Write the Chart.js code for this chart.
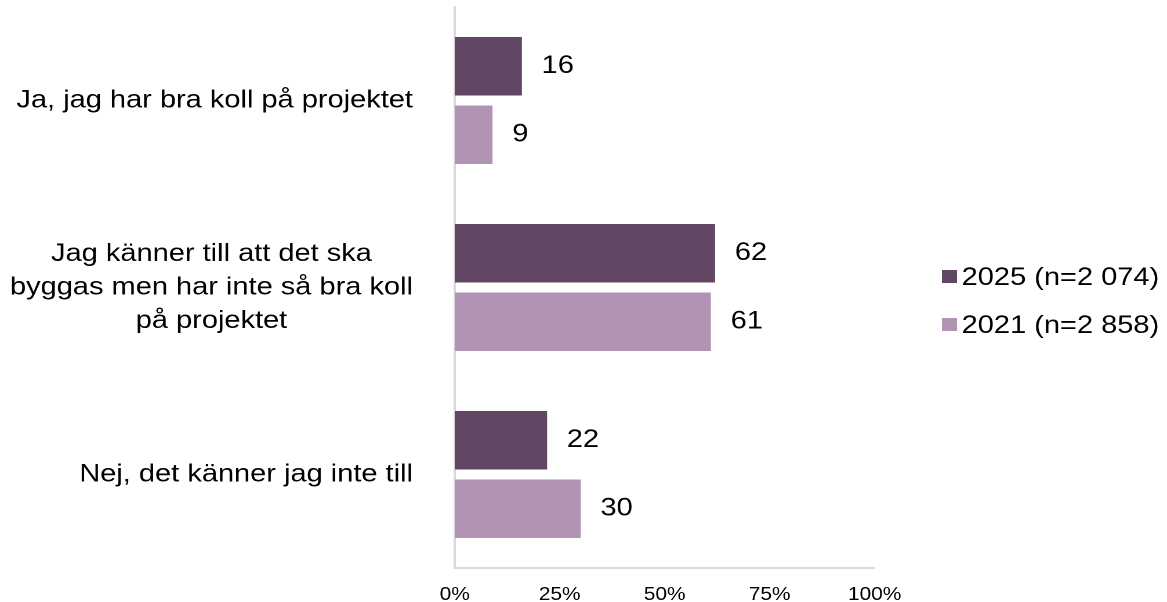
<!DOCTYPE html>
<html>
<head>
<meta charset="utf-8">
<script src="https://cdn.jsdelivr.net/npm/chart.js@4"></script>
<style>
  html, body { margin: 0; padding: 0; background: #fff; overflow: hidden; }
  /* the reference is a little stretched horizontally */
  #wrap { width: 1006px; height: 602px; transform: scaleX(1.16); transform-origin: 0 0; }
</style>
</head>
<body>
<div id="wrap"><canvas id="chart"></canvas></div>
<script>
// Chart data
const categories = [
    ['Ja, jag har bra koll på projektet'],
    ['Jag känner till att det ska', 'byggas men har inte så bra koll', 'på projektet'],
    ['Nej, det känner jag inte till']
];
const seriesNames = ['2025 (n=2 074)', '2021 (n=2 858)'];
const values2025 = [16, 62, 22];
const values2021 = [9, 61, 30];
const xTicks = [0, 25, 50, 75, 100];

const colors = ['#614764', '#b193b4'];
const FONT = '"Liberation Sans", Arial, sans-serif';

// Draws category labels, value labels and the legend
const textPlugin = {
    id: 'textPlugin',
    afterDraw(chart) {
        const ctx = chart.ctx;
        const yScale = chart.scales.y;
        ctx.save();
        ctx.fillStyle = '#000';
        ctx.textBaseline = 'middle';

        // Category labels: block right-aligned, lines centered inside it
        ctx.font = '25px ' + FONT;
        ctx.textAlign = 'center';
        const lineHeight = 33.5;
        categories.forEach((lines, i) => {
            const y = yScale.getPixelForValue(i);
            const blockWidth = Math.max(...lines.map(l => ctx.measureText(l).width));
            const cx = 356 - blockWidth / 2;
            lines.forEach((line, j) => {
                ctx.fillText(line, cx, y + (j - (lines.length - 1) / 2) * lineHeight);
            });
        });

        // Value labels at the end of each bar
        ctx.textAlign = 'left';
        chart.data.datasets.forEach((ds, di) => {
            chart.getDatasetMeta(di).data.forEach((bar, i) => {
                ctx.fillText(ds.data[i], bar.x + 17, bar.y);
            });
        });

        // Legend
        const legendY = [278, 326];
        chart.data.datasets.forEach((ds, di) => {
            ctx.fillStyle = ds.backgroundColor;
            ctx.fillRect(812, legendY[di] - 8, 13, 13);
            ctx.fillStyle = '#000';
            ctx.fillText(ds.label, 829, legendY[di]);
        });
        ctx.restore();
    }
};

function createChart() {
    const ctx = document.getElementById('chart').getContext('2d');

    new Chart(ctx, {
        type: 'bar',
        data: {
            labels: categories,
            datasets: [{
                label: seriesNames[0],
                data: values2025,
                backgroundColor: colors[0],
                categoryPercentage: 0.733,
                barPercentage: 0.854
            }, {
                label: seriesNames[1],
                data: values2021,
                backgroundColor: colors[1],
                categoryPercentage: 0.733,
                barPercentage: 0.854
            }]
        },
        options: {
            indexAxis: 'y',
            responsive: true,
            maintainAspectRatio: false,
            animation: false,
            devicePixelRatio: 2,
            layout: {
                padding: { top: 7, right: 252, left: 0, bottom: 0 }
            },
            plugins: {
                legend: { display: false },
                tooltip: { enabled: false }
            },
            scales: {
                x: {
                    min: 0,
                    max: 100,
                    afterBuildTicks: scale => {
                        scale.ticks = xTicks.map(v => ({ value: v }));
                    },
                    afterFit: scale => { scale.height = 34; },
                    ticks: {
                        callback: value => value + '%',
                        color: '#000',
                        padding: 16,
                        font: { family: FONT, size: 18 }
                    },
                    grid: { display: false, drawTicks: false },
                    border: { color: '#d9d9d9', width: 2 }
                },
                y: {
                    afterFit: scale => { scale.width = 392; },
                    ticks: { display: false },
                    grid: { display: false, drawTicks: false },
                    border: { color: '#d9d9d9', width: 2 }
                }
            }
        },
        plugins: [textPlugin]
    });
}

window.addEventListener('DOMContentLoaded', createChart);
</script>
</body>
</html>
